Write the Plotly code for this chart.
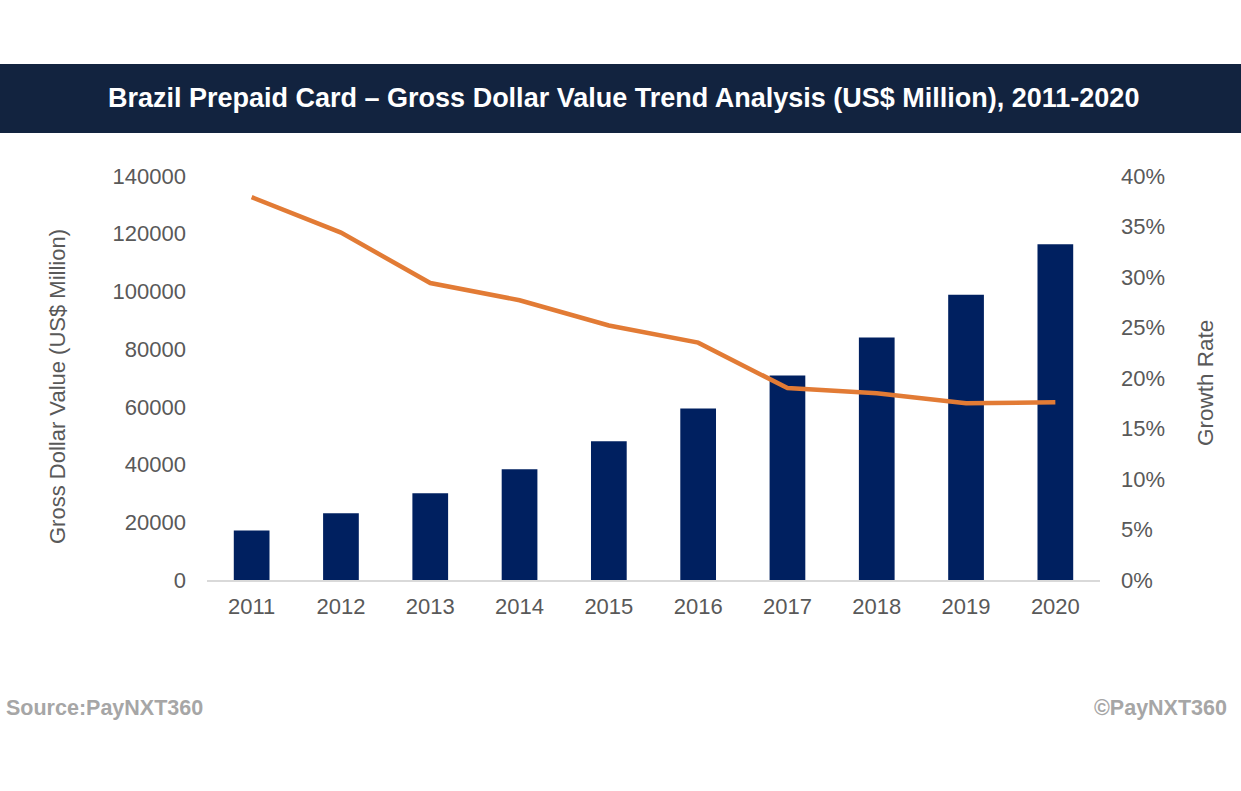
import plotly.graph_objects as go

years = ["2011", "2012", "2013", "2014", "2015", "2016", "2017", "2018", "2019", "2020"]
gross_value = [17150, 23150, 30080, 38400, 48100, 59430, 70870, 84030, 98830, 116370]
growth_rate = [0.379, 0.344, 0.294, 0.277, 0.252, 0.235, 0.190, 0.185, 0.175, 0.176]

left_ticks = [0, 20000, 40000, 60000, 80000, 100000, 120000, 140000]
left_labels = ["0", "20000", "40000", "60000", "80000", "100000", "120000", "140000"]
right_ticks = [0, 0.05, 0.10, 0.15, 0.20, 0.25, 0.30, 0.35, 0.40]
right_labels = ["0%", "5%", "10%", "15%", "20%", "25%", "30%", "35%", "40%"]

FONT = "Liberation Sans, Arial, sans-serif"
GREY = "#595959"

fig = go.Figure()
fig.add_trace(go.Bar(x=years, y=gross_value, marker_color="#002060",
                     marker_line_width=0, name="Gross Dollar Value", yaxis="y"))
fig.add_trace(go.Scatter(x=years, y=growth_rate, mode="lines", name="Growth Rate",
                         line=dict(color="#E27B35", width=4.5), yaxis="y2"))

L, R, T, B = 207, 141, 176, 211
W, H = 1241, 791
pw = W - L - R
ph = H - T - B

def px_x(x):
    return (x - L) / pw

def px_y(y):
    return (H - B - y) / ph

fig.update_layout(
    width=W, height=H,
    margin=dict(l=L, r=R, t=T, b=B, autoexpand=False),
    paper_bgcolor="white", plot_bgcolor="white",
    showlegend=False,
    bargap=0.6,
    font=dict(family=FONT, color=GREY, size=22),
    xaxis=dict(showgrid=False, showline=True, linecolor="#D9D9D9", linewidth=1.5,
               ticks="", tickfont=dict(size=22, color=GREY), ticklabelstandoff=6),
    yaxis=dict(range=[0, 140000], tickvals=left_ticks, ticktext=left_labels,
               showgrid=False, zeroline=False, showline=False,
               tickfont=dict(size=22, color=GREY), ticklabelstandoff=20),
    yaxis2=dict(range=[0, 0.40], tickvals=right_ticks, ticktext=right_labels,
                overlaying="y", side="right", showgrid=False, zeroline=False, showline=False,
                tickfont=dict(size=22, color=GREY), ticklabelstandoff=20),
)

# Axis titles
fig.add_annotation(xref="paper", yref="paper", x=px_x(57), y=px_y(387),
                   text="Gross Dollar Value (US$ Million)", textangle=-90, showarrow=False,
                   font=dict(size=22, color=GREY, family=FONT),
                   xanchor="center", yanchor="middle")
fig.add_annotation(xref="paper", yref="paper", x=px_x(1205), y=px_y(383),
                   text="Growth Rate", textangle=-90, showarrow=False,
                   font=dict(size=22.5, color=GREY, family=FONT),
                   xanchor="center", yanchor="middle")

# Title banner
fig.add_shape(type="rect", xref="paper", yref="paper",
              x0=px_x(0), x1=px_x(W), y0=px_y(133), y1=px_y(64),
              fillcolor="#12233F", line_width=0, layer="below")
fig.add_annotation(xref="paper", yref="paper", x=px_x(623), y=px_y(98),
                   text="<b>Brazil Prepaid Card – Gross Dollar Value Trend Analysis (US$ Million), 2011-2020</b>",
                   showarrow=False, font=dict(size=27, color="white", family=FONT),
                   xanchor="center", yanchor="middle")

# Footer
fig.add_annotation(xref="paper", yref="paper", x=px_x(4), y=px_y(708),
                   text="<b>Source:PayNXT360</b>", showarrow=False,
                   font=dict(size=21.5, color="#A6A6A6", family=FONT),
                   xanchor="left", yanchor="middle")
fig.add_annotation(xref="paper", yref="paper", x=px_x(1229), y=px_y(708),
                   text="<b>©PayNXT360</b>", showarrow=False,
                   font=dict(size=21.5, color="#A6A6A6", family=FONT),
                   xanchor="right", yanchor="middle")

fig.write_html("out.html")
